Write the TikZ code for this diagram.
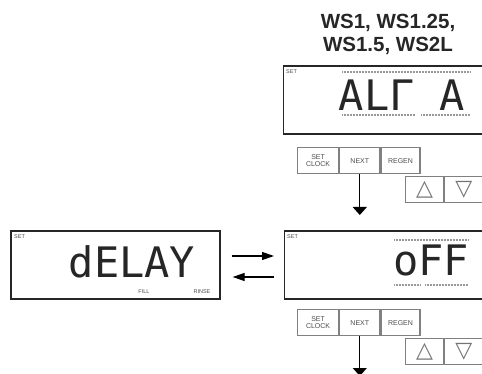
\documentclass[tikz,border=0pt]{standalone}
\usepackage{fontspec}
\setsansfont{Liberation Sans}
\newfontfamily\segfont{DejaVu Sans Mono}
\newfontfamily\symfont{DejaVu Sans}
\usetikzlibrary{arrows.meta,positioning}

\tikzset{
  disp/.style={draw=black!85, line width=1.3pt, minimum height=68pt, inner sep=0pt},
  segtext/.style={font=\segfont\fontsize{42}{42}\selectfont, text=black!85, inner sep=0pt},
  settext/.style={font=\sffamily\fontsize{5.5}{6}\selectfont, text=black!70, inner sep=0pt},
  ghost/.style={draw=black!40, line width=2.5pt, dash pattern=on 0.5pt off 1pt},
  btn/.style={draw=black!50, line width=1.2pt, minimum height=26pt, inner sep=0pt,
    font=\sffamily\fontsize{7}{7.5}\selectfont, text=black!70, align=center},
  arrbtn/.style={btn, minimum width=38pt, font=\symfont\fontsize{22}{22}\selectfont, text=black!55},
  downarr/.style={line width=1.2pt, -{Triangle[width=14pt,length=8pt]}},
  sidearr/.style={line width=1.2pt, -{Triangle[width=8pt,length=12pt]}}
}

\begin{document}
\begin{tikzpicture}[x=1pt,y=-1pt]
\useasboundingbox (0,0) rectangle (482,374);
\clip (0,0) rectangle (482,374);

\node[font=\sffamily\bfseries\fontsize{20.5}{23}\selectfont, align=center, text=black!85] (title) at (388,34) {WS1, WS1.25,\\WS1.5, WS2L};

\node[disp, minimum width=210pt, anchor=west] (altdisp) at (283,100) {};
\node[settext, anchor=north west] (altset) at (286,69) {SET};
\draw[ghost] (342,72) -- (470,72);
\draw[ghost] (342,115) -- (415,115);
\draw[ghost] (421,115) -- (470,115);
\node[segtext] (alttext) at (402,95) {AL\char"0393\ A};

\node[btn, minimum width=41pt, anchor=north west] (setclk1) at (297,147) {SET\\CLOCK};
\node[btn, minimum width=40pt, right=0pt of setclk1] (next1) {NEXT};
\node[btn, minimum width=39pt, right=0pt of next1] (regen1) {REGEN};
\node[arrbtn, anchor=north west] (up1) at (405,176) {\char"25B3};
\node[arrbtn, right=0pt of up1] (down1) {\char"25BD};
\coordinate (end1) at (next1.south |- 0,215);
\draw[downarr] (next1.south) -- (end1);

\node[disp, minimum width=210pt, anchor=west] (offdisp) at (284,265) {};
\node[settext, anchor=north west] (offset) at (287,234) {SET};
\draw[ghost] (394,240) -- (468,240);
\draw[ghost] (394,285) -- (420,285);
\draw[ghost] (425,285) -- (468,285);
\node[segtext] (offtext) at (431,260) {oFF};

\node[btn, minimum width=41pt, anchor=north west] (setclk2) at (297,309) {SET\\CLOCK};
\node[btn, minimum width=40pt, right=0pt of setclk2] (next2) {NEXT};
\node[btn, minimum width=39pt, right=0pt of next2] (regen2) {REGEN};
\node[arrbtn, anchor=north west] (up2) at (405,338) {\char"25B3};
\node[arrbtn, right=0pt of up2] (down2) {\char"25BD};
\coordinate (end2) at (next2.south |- 0,376);
\draw[downarr] (next2.south) -- (end2);

\node[disp, minimum width=209pt] (delaydisp) at (115.5,265) {};
\node[settext, anchor=north west] (delayset) at (14,234) {SET};
\node[segtext] (delaytext) at (132,262) {dELAY};
\node[settext] (fill) at (144,292) {FILL};
\node[settext] (rinse) at (202,292) {RINSE};

\draw[sidearr] ([xshift=11pt,yshift=9pt]delaydisp.east) -- ([xshift=-10pt,yshift=9pt]offdisp.west);
\draw[sidearr] ([xshift=-10pt,yshift=-12pt]offdisp.west) -- ([xshift=12pt,yshift=-12pt]delaydisp.east);
\end{tikzpicture}
\end{document}
